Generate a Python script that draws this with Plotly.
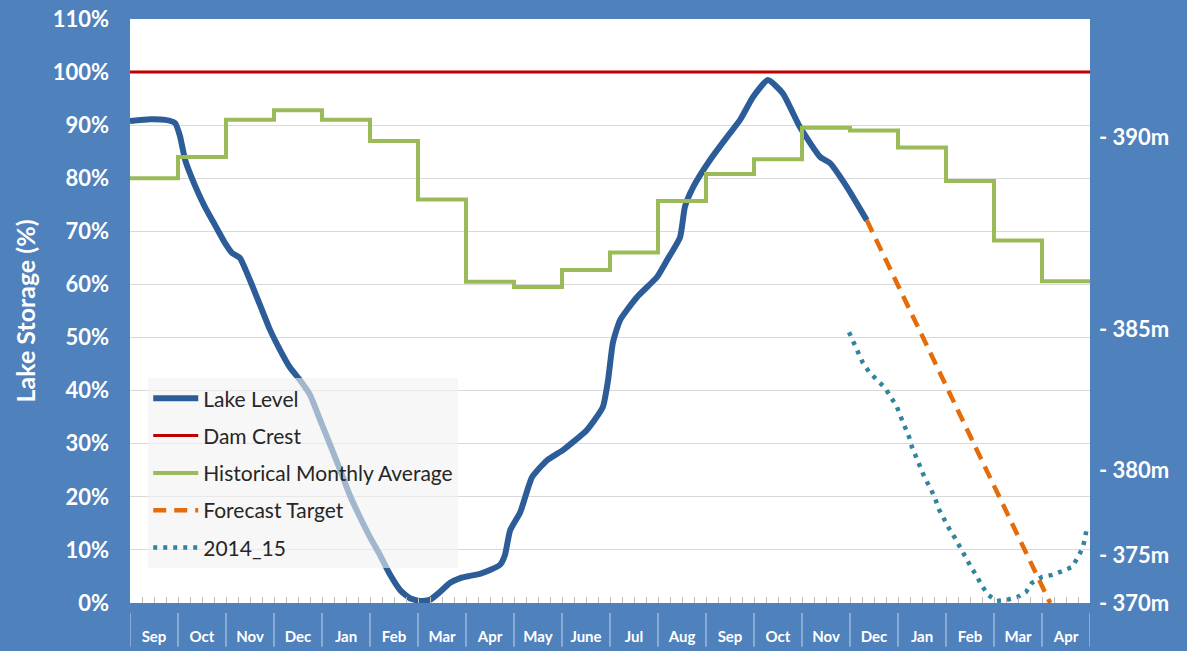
import plotly.graph_objects as go

# ---------------- data ----------------
months = ["Sep", "Oct", "Nov", "Dec", "Jan", "Feb", "Mar", "Apr", "May", "June",
          "Jul", "Aug", "Sep", "Oct", "Nov", "Dec", "Jan", "Feb", "Mar", "Apr"]

# Historical monthly average (% storage), one value per month
hist_avg = [80, 84, 91, 92.8, 91, 87, 76, 60.5, 59.5, 62.7,
            66, 75.7, 80.8, 83.6, 89.5, 89, 85.8, 79.5, 68.3, 60.6]

# Lake level: time in months from the first Sep, storage %
lake_t = [0, 0.42, 0.73, 0.94, 1.04, 1.15, 1.35, 1.56, 1.77, 1.98, 2.13, 2.29, 2.5, 2.71,
          2.92, 3.13, 3.33, 3.54, 3.75, 3.96, 4.17, 4.38, 4.58, 4.79, 5.0, 5.21, 5.42, 5.63,
          5.83, 6.04, 6.25, 6.46, 6.67, 6.88, 7.08, 7.29, 7.5, 7.71, 7.81, 7.92, 8.13,
          8.375, 8.69, 9.02, 9.52, 9.85, 9.96, 10.06, 10.21, 10.56, 10.98, 11.19, 11.46,
          11.56, 11.73, 12.08, 12.44, 12.71, 12.98, 13.29, 13.6, 13.96, 14.38, 14.58,
          14.94, 15.35]
lake_pct = [90.8, 91.1, 91.0, 90.4, 88.0, 83.4, 78.7, 74.6, 71.2, 67.8, 65.9, 65.0, 60.8, 56.1,
            51.4, 47.6, 44.4, 42.0, 39.2, 34.5, 29.8, 25.0, 20.3, 16.2, 12.4, 9.0, 5.3, 2.4,
            0.9, 0.4, 0.6, 2.1, 3.8, 4.7, 5.1, 5.5, 6.2, 7.2, 9.0, 13.7, 17.1,
            23.7, 26.9, 28.8, 32.6, 36.9, 42.0, 49.0, 53.3, 57.6, 61.4, 64.6, 68.9,
            74.6, 78.3, 83.4, 87.8, 91.0, 95.3, 98.5, 96.0, 89.6, 84.0, 82.9,
            78.3, 72.1]

# Dam crest
dam_t = [0, 20]
dam_pct = [100, 100]

# Forecast target
forecast_t = [15.35, 19.17]
forecast_pct = [72.1, 0]

# 2014_15 season
s1415_t = [14.98, 15.08, 15.17, 15.27, 15.40, 15.56, 15.73, 15.85, 15.98, 16.06, 16.15, 16.23,
           16.29, 16.38, 16.46, 16.56, 16.67, 16.77, 16.85, 16.94, 17.06, 17.19, 17.29, 17.40,
           17.52, 17.65, 17.75, 17.88, 18.06, 18.27, 18.48, 18.67, 18.79, 19.0, 19.21, 19.42,
           19.63, 19.75, 19.85, 19.9, 19.94]
s1415_pct = [51.0, 49.0, 47.0, 45.2, 43.5, 42.0, 40.5, 38.8, 36.9, 35.0, 33.1, 31.3,
             29.4, 27.3, 25.4, 23.5, 21.7, 19.8, 17.7, 16.0, 14.1, 12.2, 10.5, 8.7,
             6.8, 4.9, 3.2, 1.5, 0.4, 0.6, 1.1, 2.1, 3.8, 4.9, 5.3, 6.0,
             6.8, 8.7, 10.4, 12.4, 14.5]

# Right-hand elevation labels (position in % storage)
elev_pct = [87.8, 51.6, 25.0, 9.0, 0]
elev_text = ["- 390m", "- 385m", "- 380m", "- 375m", "- 370m"]

# ---------------- figure ----------------
FONT = "Lato"
BG = "#4F81BD"
n = len(months)
hist_x = list(range(n + 1))
hist_y = hist_avg + [hist_avg[-1]]

fig = go.Figure()
fig.add_trace(go.Scatter(x=lake_t, y=lake_pct, mode="lines", name="Lake Level",
                         legendgroup="a", line=dict(color="#2C5D98", width=6, shape="spline", smoothing=0.5),
                         hoverinfo="skip"))
fig.add_trace(go.Scatter(x=dam_t, y=dam_pct, mode="lines", name="Dam Crest",
                         legendgroup="b", line=dict(color="#C00000", width=3), hoverinfo="skip"))
fig.add_trace(go.Scatter(x=hist_x, y=hist_y, mode="lines", name="Historical Monthly Average",
                         legendgroup="c", line=dict(color="#9BBB59", width=4, shape="hv"),
                         hoverinfo="skip"))
fig.add_trace(go.Scatter(x=forecast_t, y=forecast_pct, mode="lines", name="Forecast Target",
                         legendgroup="d", line=dict(color="#E46C0A", width=4.5, dash="13px,8px"),
                         hoverinfo="skip"))
fig.add_trace(go.Scatter(x=s1415_t, y=s1415_pct, mode="lines", name="2014_15",
                         legendgroup="e", line=dict(color="#31849B", width=4.5, dash="4px,6px"),
                         hoverinfo="skip"))
# helpers so the overlay axes are drawn
fig.add_trace(go.Scatter(x=[0, 20], y=[0, 0], xaxis="x2", mode="lines", line=dict(width=0),
                         showlegend=False, hoverinfo="skip"))
fig.add_trace(go.Scatter(x=[0, 20], y=[0, 0], yaxis="y2", mode="lines", line=dict(width=0),
                         showlegend=False, hoverinfo="skip"))

# month separators below the plot
shapes = []
for i in range(n + 1):
    shapes.append(dict(type="line", xref="x", yref="paper", x0=i, x1=i, y0=-0.017, y1=-0.075,
                       line=dict(color="#C6D5EA", width=1)))

fig.update_layout(
    width=1187, height=651, autosize=False,
    paper_bgcolor=BG, plot_bgcolor="white",
    margin=dict(l=130, r=97, t=19, b=48, autoexpand=False),
    font=dict(family=FONT, color="white"),
    shapes=shapes,
    xaxis=dict(range=[0, 20], tickmode="linear", tick0=0, dtick=0.25, ticks="inside",
               ticklen=6, tickcolor="#BFBFBF", showticklabels=False, showgrid=False,
               zeroline=False, showline=False, fixedrange=True, automargin=False),
    xaxis2=dict(range=[0, 20], overlaying="x", side="bottom", anchor="y",
                tickmode="array", tickvals=[i + 0.5 for i in range(n)], ticktext=months,
                ticks="", ticklabelstandoff=23, showgrid=False, zeroline=False, showline=False,
                automargin=False,
                tickfont=dict(family=FONT, size=15, color="white", weight=700)),
    yaxis=dict(range=[0, 110], tickmode="linear", tick0=0, dtick=10, ticksuffix="%",
               gridcolor="#D9D9D9", gridwidth=1, zeroline=False, showline=False, ticks="",
               ticklabelstandoff=20, automargin=False,
               tickfont=dict(family=FONT, size=22, color="white", weight=700),
               title=dict(text="Lake Storage (%)", standoff=9,
                          font=dict(family=FONT, size=25, color="white", weight=700))),
    yaxis2=dict(range=[0, 110], overlaying="y", side="right", anchor="x",
                tickmode="array", tickvals=elev_pct, ticktext=elev_text, ticks="",
                ticklabelstandoff=8, showgrid=False, zeroline=False, showline=False,
                automargin=False,
                tickfont=dict(family=FONT, size=22, color="white", weight=700)),
    legend=dict(x=0.019, y=0.385, xanchor="left", yanchor="top",
                bgcolor="rgba(242,242,242,0.6)", borderwidth=0,
                font=dict(family=FONT, size=21, color="#262626"),
                tracegroupgap=7, traceorder="grouped", itemwidth=45),
    showlegend=True,
)

fig.write_html("out.html", config={"displayModeBar": False},
               post_script="document.body.style.margin='0';document.body.style.background='#4F81BD';")
